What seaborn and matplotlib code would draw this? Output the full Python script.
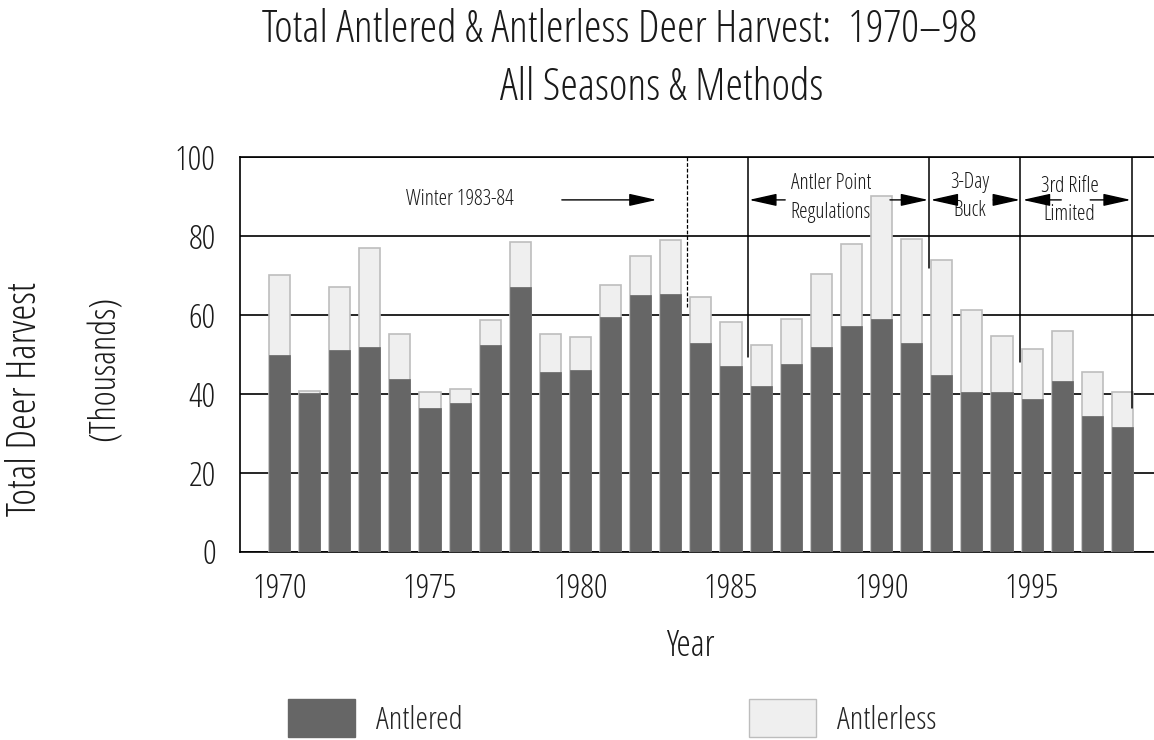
import seaborn as sns
import matplotlib.pyplot as plt
from matplotlib.patches import Patch

years = list(range(1970, 1999))
# total harvest (thousands) and antlered part; antlerless = total - antlered
total = [70.1, 40.8, 67.2, 76.9, 55.2, 40.4, 41.2, 58.7, 78.4, 55.2,
         54.4, 67.7, 75.0, 79.0, 64.7, 58.2, 52.4, 58.9, 70.3, 77.9,
         90.3, 79.2, 73.9, 61.4, 54.7, 51.5, 55.9, 45.5, 40.4]
antlered = [49.9, 40.2, 51.1, 51.8, 43.9, 36.4, 37.8, 52.3, 67.2, 45.6,
            46.1, 59.6, 65.0, 65.3, 52.8, 47.1, 42.0, 47.7, 51.9, 57.3,
            58.9, 53.0, 44.7, 40.6, 40.6, 38.7, 43.4, 34.3, 31.5]
xticks = [1970, 1975, 1980, 1985, 1990, 1995]
yticks = [0, 20, 40, 60, 80, 100]

sns.set_style("white")
plt.rcParams['font.family'] = ['Open Sans', 'DejaVu Sans']
plt.rcParams['font.stretch'] = 'condensed'
plt.rcParams['font.weight'] = 'light'
txt = "#1a1a1a"

fig = plt.figure(figsize=(11.54, 7.40), dpi=100)
ax = fig.add_axes([240/1154, 1-551.7/740, 1-240/1154, (551.7-157.3)/740])

sns.barplot(x=years, y=total, native_scale=True, width=0.7, color="#efefef",
            edgecolor="#bdbdbd", linewidth=1.2, saturation=1, ax=ax, zorder=3)
sns.barplot(x=years, y=antlered, native_scale=True, width=0.7, color="#666666",
            edgecolor="#666666", linewidth=0.5, saturation=1, ax=ax, zorder=4)

ax.set_xlim(1968.69, 1999.05)
ax.set_ylim(0, 100)
ax.set_xticks(xticks)
ax.set_yticks(yticks)
ax.set_xticklabels([str(t) for t in xticks], fontsize=24.5, color=txt)
ax.set_yticklabels([str(t) for t in yticks], fontsize=24.5, color=txt)
ax.tick_params(axis='x', length=0, pad=15)
ax.tick_params(axis='y', length=0, pad=17.5)
ax.set_xlabel("")
ax.set_ylabel("")
ax.grid(axis='y', color='black', linewidth=1.2, zorder=0)
ax.set_axisbelow(True)
for s in ['left', 'bottom', 'top']:
    ax.spines[s].set_visible(True)
    ax.spines[s].set_color('black')
    ax.spines[s].set_linewidth(1.2)
ax.spines['right'].set_visible(False)

# regulation period markers
ax.plot([1983.55, 1983.55], [62, 100], color='black', lw=0.9, ls=(0, (3, 1.5)), zorder=5)
for xv, y0 in [(1985.55, 49.3), (1991.59, 71.9), (1994.61, 48.2), (1998.33, 36.4)]:
    ax.plot([xv, xv], [y0, 100], color='black', lw=1.1, zorder=5)

def arrow(x0, x1, y):
    ax.annotate('', xy=(x1, y), xytext=(x0, y),
                arrowprops=dict(arrowstyle='-|>,head_length=1.7,head_width=0.38',
                                color='black', lw=1.0, shrinkA=0, shrinkB=0,
                                mutation_scale=10), zorder=6)

fs = 15.5
ax.text(1976.0, 89.2, "Winter 1983-84", ha='center', va='center', fontsize=fs, color=txt)
arrow(1979.38, 1982.53, 89.2)
ax.text(1988.32, 93.3, "Antler Point", ha='center', va='center', fontsize=fs, color=txt)
ax.text(1988.32, 86.1, "Regulations", ha='center', va='center', fontsize=fs, color=txt)
arrow(1986.8, 1985.6, 89.2)
arrow(1990.28, 1991.55, 89.2)
ax.text(1992.92, 93.7, "3-Day", ha='center', va='center', fontsize=fs, color=txt)
ax.text(1992.92, 86.4, "Buck", ha='center', va='center', fontsize=fs, color=txt)
arrow(1992.44, 1991.63, 89.2)
arrow(1993.71, 1994.6, 89.2)
ax.text(1996.24, 92.5, "3rd Rifle", ha='center', va='center', fontsize=fs, color=txt)
ax.text(1996.24, 85.4, "Limited", ha='center', va='center', fontsize=fs, color=txt)
arrow(1995.97, 1994.69, 89.2)
arrow(1996.93, 1998.28, 89.2)

fig.text(619.5/1154, 1-42.3/740, "Total Antlered & Antlerless Deer Harvest:  1970\u201398",
         ha='center', va='baseline', fontsize=32, color=txt)
fig.text(662/1154, 1-100/740, "All Seasons & Methods",
         ha='center', va='baseline', fontsize=32, color=txt)
fig.text(690/1154, 1-646/740, "Year", ha='center', va='center', fontsize=26, color=txt)
fig.text(26/1154, 1-399/740, "Total Deer Harvest", ha='center', va='center',
         rotation=90, fontsize=29, color=txt)
fig.text(105/1154, 1-368/740, "(Thousands)", ha='center', va='center',
         rotation=90, fontsize=26, color=txt)

handles = [Patch(facecolor="#666666", edgecolor="#666666"),
           Patch(facecolor="#efefef", edgecolor="#bdbdbd")]
fig.legend(handles, ["Antlered", "Antlerless"], loc='center left',
           bbox_to_anchor=(288/1154, 1-718/740), ncol=2, frameon=False,
           fontsize=23, handlelength=2.1, handleheight=1.45, handletextpad=0.66,
           columnspacing=8.95, borderpad=0, borderaxespad=0)

fig.savefig("out.png", dpi=100)
